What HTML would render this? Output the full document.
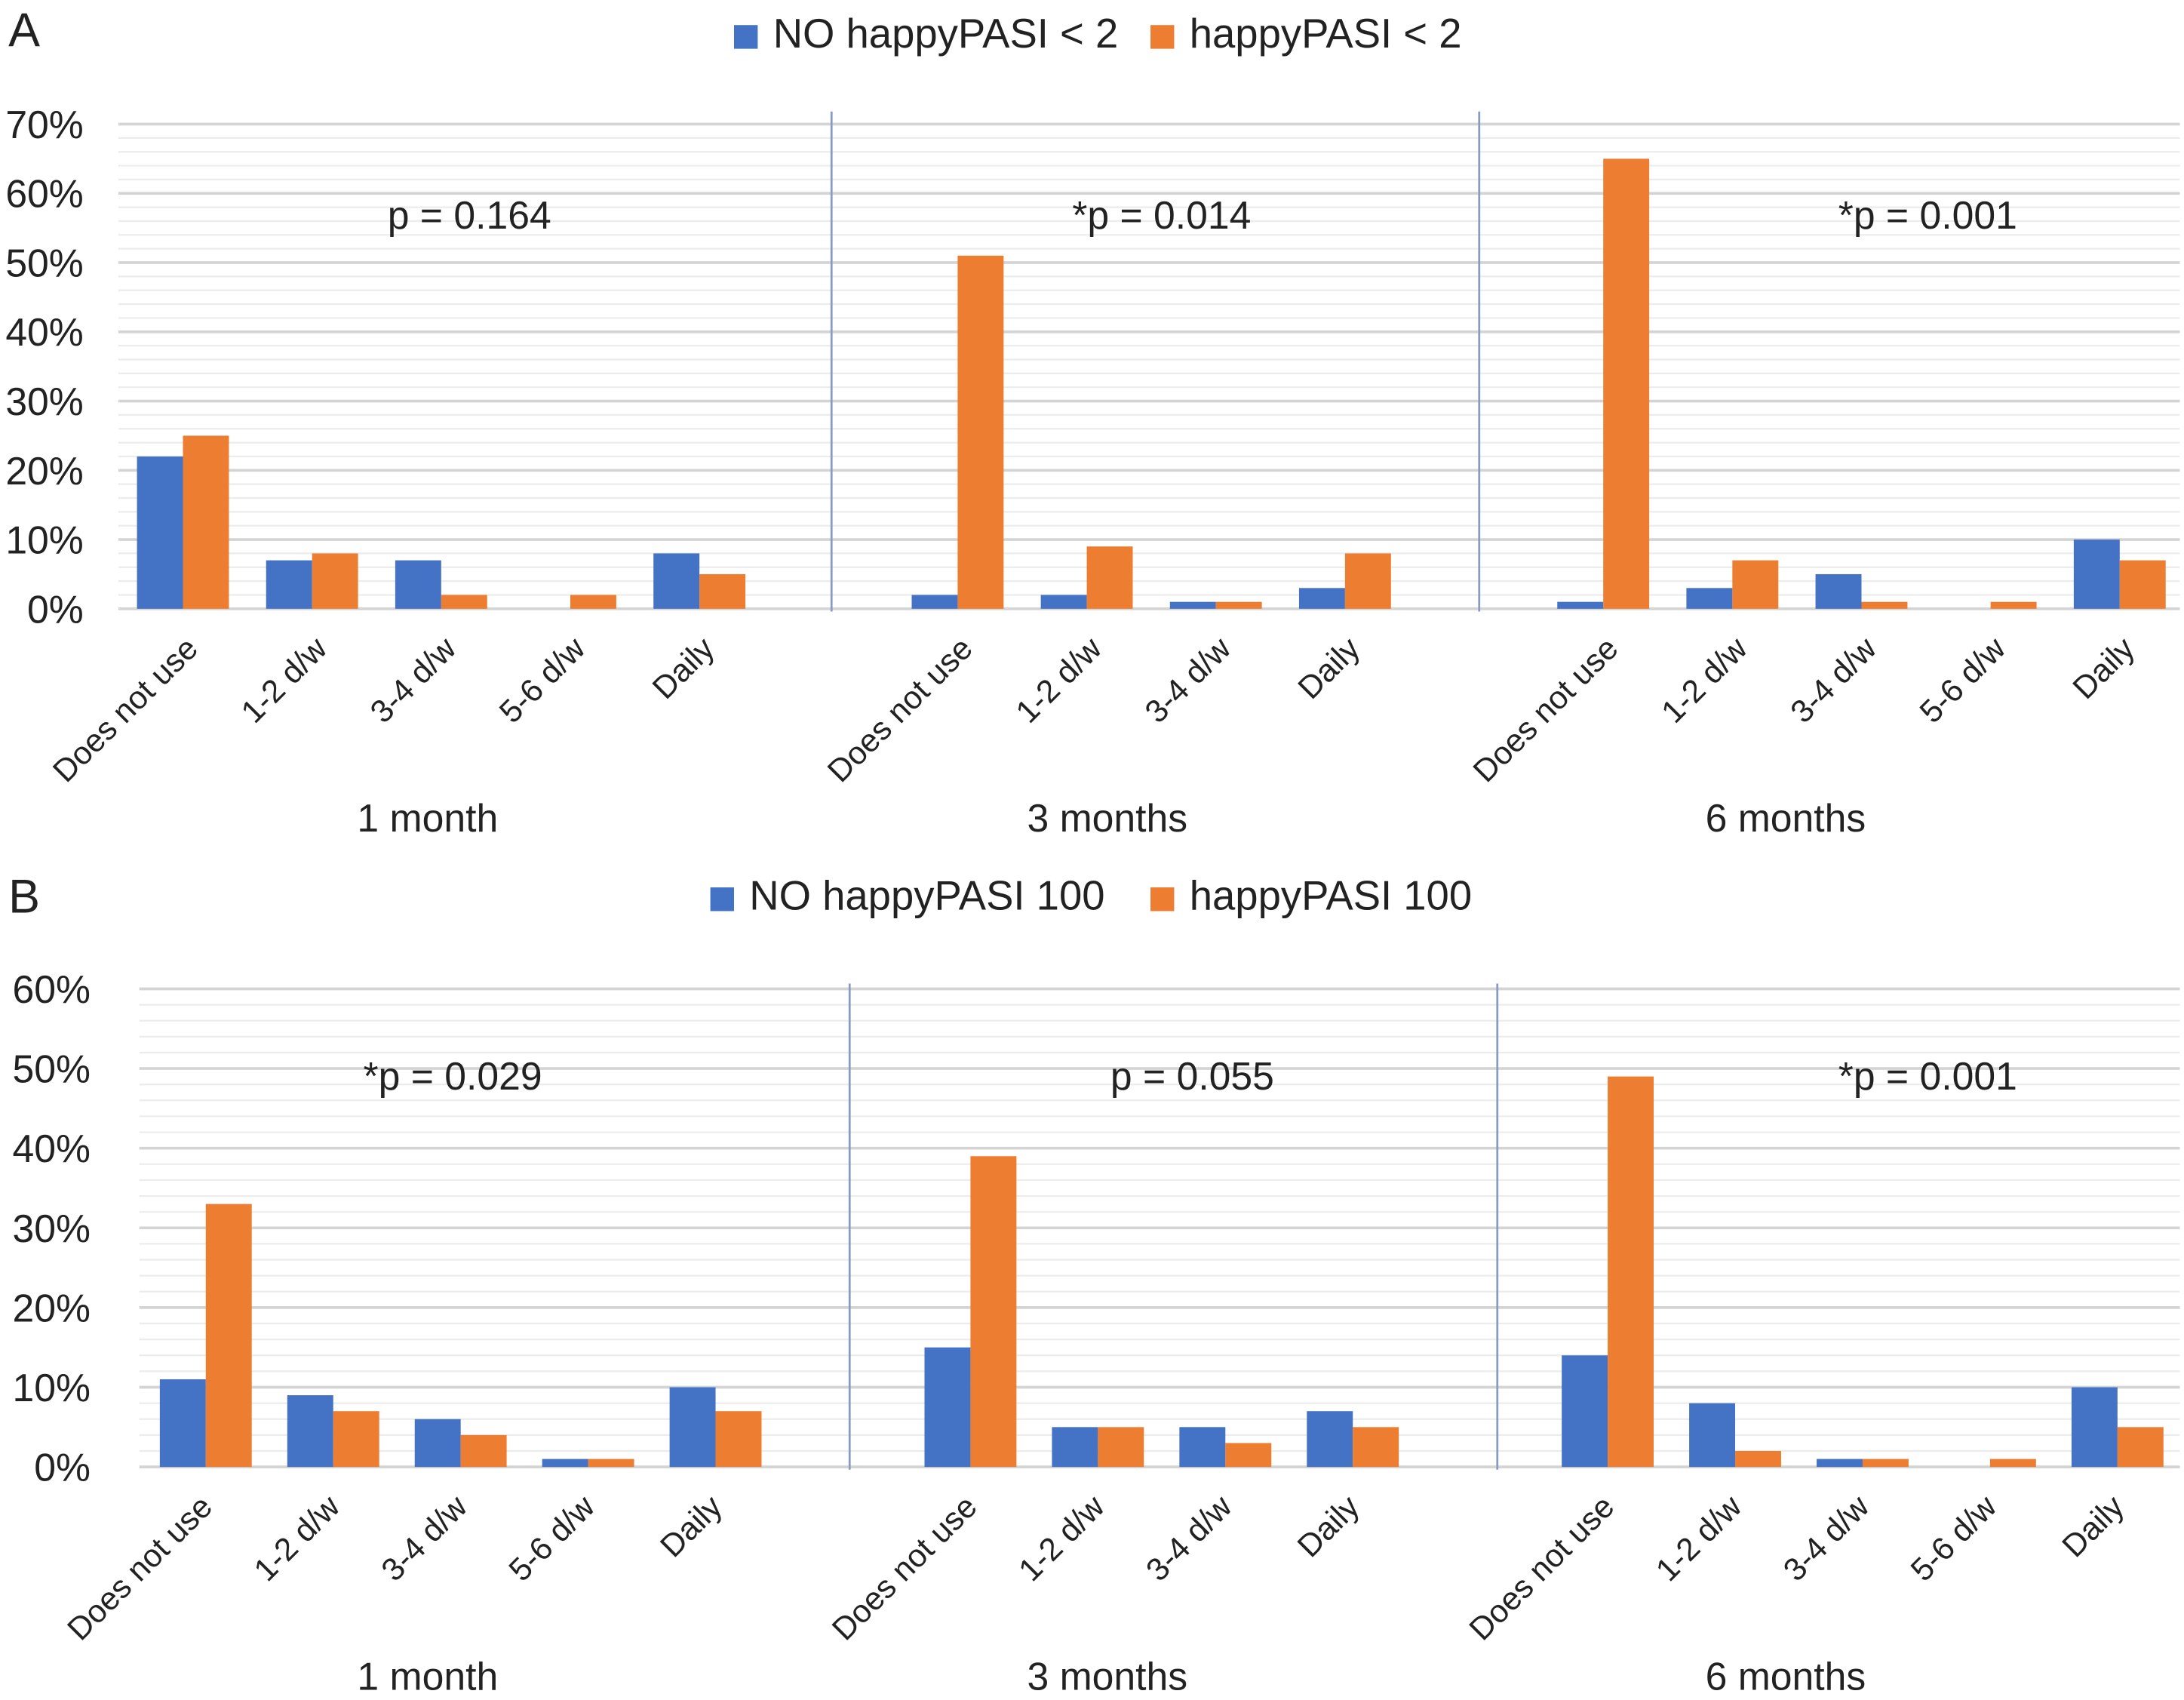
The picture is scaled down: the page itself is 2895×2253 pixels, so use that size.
<!DOCTYPE html>
<html><head><meta charset="utf-8"><style>
html,body{margin:0;padding:0;background:#fff}
svg{display:block;font-family:"Liberation Sans",Arial,sans-serif}
</style></head><body>
<svg id="chart" width="2895" height="2253" viewBox="0 0 1568 1220.3" preserveAspectRatio="none" xmlns="http://www.w3.org/2000/svg">
<rect width="1568" height="1220.3" fill="#fff"/>
<g id="root"></g>
</svg>
<script>
const cats5 = ["Does not use","1-2 d/w","3-4 d/w","5-6 d/w","Daily"];
const cats4 = ["Does not use","1-2 d/w","3-4 d/w","Daily"];
const groups = ["1 month","3 months","6 months"];
const aBlue1 = [22,7,7,0,8], aOrange1 = [25,8,2,2,5];
const aBlue3 = [2,2,1,3], aOrange3 = [51,9,1,8];
const aBlue6 = [1,3,5,0,10], aOrange6 = [65,7,1,1,7];
const aPvals = ["p = 0.164","*p = 0.014","*p = 0.001"];
const aTicks = [0,10,20,30,40,50,60,70];
const bBlue1 = [11,9,6,1,10], bOrange1 = [33,7,4,1,7];
const bBlue3 = [15,5,5,7], bOrange3 = [39,5,3,5];
const bBlue6 = [14,8,1,0,10], bOrange6 = [49,2,1,1,5];
const bPvals = ["*p = 0.029","p = 0.055","*p = 0.001"];
const bTicks = [0,10,20,30,40,50,60];
const legendA = ["NO happyPASI < 2","happyPASI < 2"];
const legendB = ["NO happyPASI 100","happyPASI 100"];

const NS="http://www.w3.org/2000/svg";
const root=document.getElementById('root');
function mk(tag,attrs,parent){const e=document.createElementNS(NS,tag);for(const k in attrs)e.setAttribute(k,attrs[k]);(parent||root).appendChild(e);return e;}
const BLUE="#4472C4", ORANGE="#ED7D31";

function panel(cfg){
  const g=mk('g',{});
  
  
  const y=v=>cfg.y0-(v/10)*cfg.per10;
  const x=slot=>cfg.x0+cfg.sw*(slot+0.5);
  const maxV=cfg.ticks[cfg.ticks.length-1];
  for(let v=0;v<=maxV;v+=2){
    const l=mk('line',{x1:cfg.gx,x2:1565,y1:y(v),y2:y(v),stroke:v%10===0?'#d4d4d4':'#ececec','stroke-width':v%10===0?2:1.2},g);
    
    
  }
  cfg.ticks.forEach(t=>{
    const tx=mk('text',{x:cfg.tx,y:y(t)+10,'text-anchor':'end','font-size':28,fill:'#222'},g);
    tx.textContent=t+'%';
    
    
  });
  cfg.sepX.forEach(sx=>{
    const l=mk('line',{x1:sx,x2:sx,y1:cfg.sepTop,y2:cfg.y0+2,stroke:'#8a9bc0','stroke-width':1.5},g);
    
    
  });
  const series=[[cfg.b1,cfg.o1,cats5,0],[cfg.b3,cfg.o3,cats4,6],[cfg.b6,cfg.o6,cats5,11]];
  const bw=33;
  series.forEach((s,gi)=>{
    const [bl,or,cats,start]=s;
    cats.forEach((c,i)=>{
      const cx=x(start+i);
      const r1=mk('rect',{x:cx-bw,y:y(bl[i]),width:bw,height:y(0)-y(bl[i]),fill:BLUE},g);
      
      
      const r2=mk('rect',{x:cx,y:y(or[i]),width:bw,height:y(0)-y(or[i]),fill:ORANGE},g);
      
      
      const lx=cx+cfg.lblDx, ly=cfg.y0+30;
      const t=mk('text',{x:lx,y:ly,'text-anchor':'end','font-size':23,fill:'#222',transform:`rotate(-45 ${lx} ${ly})`},g);
      t.textContent=c;
      
      
    });
    const gl=mk('text',{x:cfg.gX[gi],y:cfg.groupY,'text-anchor':'middle','font-size':28,fill:'#222'},g);
    gl.textContent=groups[gi];
    
    
    const pl=mk('text',{x:cfg.pX[gi],y:cfg.pY,'text-anchor':'middle','font-size':28,fill:'#222'},g);
    pl.textContent=cfg.pv[gi];
    
    
  });
  const L=mk('text',{x:6,y:cfg.letterY,'font-size':34,fill:'#222'},g);
  L.textContent=cfg.letter;
  
  
  cfg.legend.forEach((txt,i)=>{
    const lx=cfg.legX[i];
    const sq=mk('rect',{x:lx,y:cfg.legY-16,width:17,height:17,fill:i?ORANGE:BLUE},g);
    
    
    const lt=mk('text',{x:lx+28,y:cfg.legY,'font-size':29.5,fill:'#222'},g);
    lt.textContent=txt;
    
    
  });
}
panel({name:'panel-a',x0:85,sw:92.7,gx:85,y0:437,per10:49.7,ticks:aTicks,tx:60,sepTop:80,sepX:[597,1062],lblDx:12,
  b1:aBlue1,o1:aOrange1,b3:aBlue3,o3:aOrange3,b6:aBlue6,o6:aOrange6,pv:aPvals,pX:[337,834,1384],pY:164,
  gX:[307,795,1282],groupY:597,letter:'A',letterY:33,legend:legendA,legX:[527,826],legY:34});
panel({name:'panel-b',x0:102,sw:91.5,gx:100,y0:1053,per10:57.2,ticks:bTicks,tx:65,sepTop:706,sepX:[610,1075],lblDx:6,
  b1:bBlue1,o1:bOrange1,b3:bBlue3,o3:bOrange3,b6:bBlue6,o6:bOrange6,pv:bPvals,pX:[325,856,1384],pY:782,
  gX:[307,795,1282],groupY:1213,letter:'B',letterY:655,legend:legendB,legX:[510,826],legY:653});
</script>
</body></html>
